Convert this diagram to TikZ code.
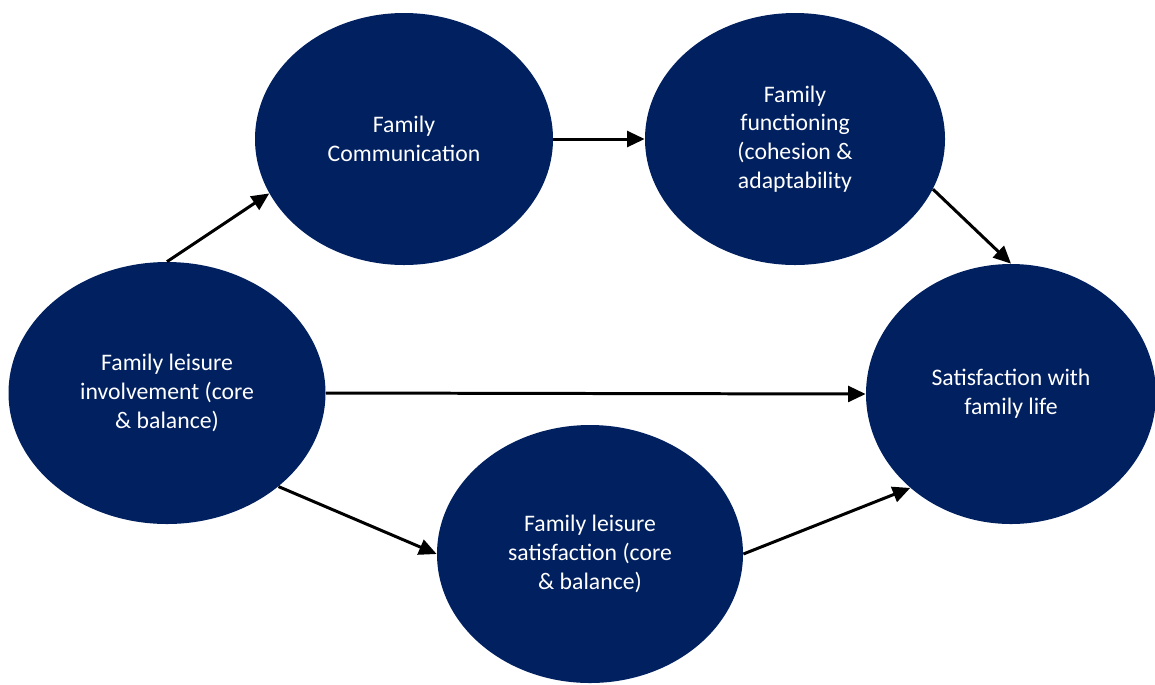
\documentclass[tikz,border=0pt]{standalone}
\usepackage{fontspec}
\setmainfont{Carlito}
\usepackage{tikz}
\usetikzlibrary{shapes.geometric}
\usetikzlibrary{arrows.meta}
\definecolor{navy}{HTML}{002060}

\begin{document}
\begin{tikzpicture}[x=0.02cm,y=-0.02cm,
  blob/.style={ellipse,fill=navy,text=white,align=center,inner sep=0pt,
    font=\fontsize{13.5}{16.4}\selectfont},
  link/.style={line width=1.7pt,-{Triangle[length=10pt,width=9pt]}}]

\useasboundingbox (0,0) rectangle (1155,684);

%nodes
\node[blob,minimum width=298*0.02cm,minimum height=252*0.02cm] (comm) at (404,139) {Family\\Communication};
\node[blob,minimum width=300*0.02cm,minimum height=252*0.02cm] (func) at (795,139) {Family\\functioning\\(cohesion \&\\adaptability};
\node[blob,minimum width=317*0.02cm,minimum height=262*0.02cm] (inv) at (167,393) {Family leisure\\involvement (core\\\& balance)};
\node[blob,minimum width=290*0.02cm,minimum height=260*0.02cm] (sat) at (1011,394) {Satisfaction with\\family life};
\node[blob,minimum width=306*0.02cm,minimum height=258*0.02cm] (lsat) at (590,554) {Family leisure\\satisfaction (core\\\& balance)};

%arrows
\draw[link] (inv.north) -- (comm.202);
\draw[link] (comm.east) -- (func.west);
\draw[link] (func.340) -- (sat.north);
\draw[link] (inv.east) -- (sat.west);
\draw[link] (inv.320) -- (lsat.west);
\draw[link] (lsat.east) -- (sat.223);

\end{tikzpicture}
\end{document}
